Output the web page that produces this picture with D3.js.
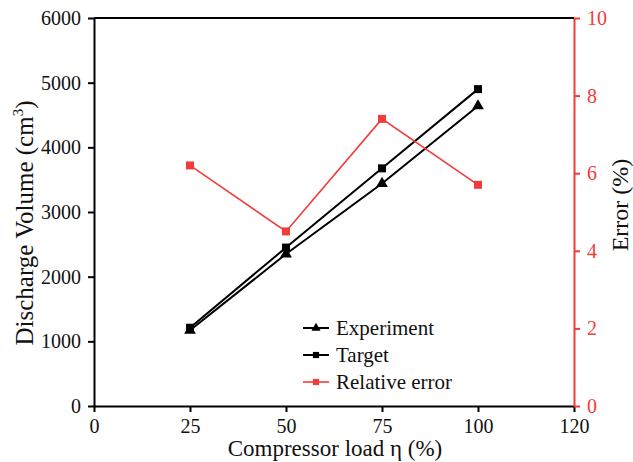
<!DOCTYPE html>
<html>
<head>
<style>
  body { margin: 0; background: #fff; }
  svg text { font-family: "Liberation Serif", "Times New Roman", serif; }
</style>
<script src="https://d3js.org/d3.v7.min.js"></script>
</head>
<body>
<svg id="chart" width="633" height="462"></svg>
<script>
// data
var load = [25, 50, 75, 100];
var experiment = [1170, 2350, 3440, 4640];
var target = [1210, 2450, 3675, 4900];
var relError = [6.2, 4.5, 7.4, 5.7];

var xTicks = [0, 25, 50, 75, 100, 125];
var xTickLabels = ["0", "25", "50", "75", "100", "120"];
var yTicks = [0, 1000, 2000, 3000, 4000, 5000, 6000];
var y2Ticks = [0, 2, 4, 6, 8, 10];

var red = "#f23b3b";
var serif = "Liberation Serif, Times New Roman, serif";
var svg = d3.select("#chart");
var plotL = 94, plotR = 574, plotT = 18, plotB = 406;

var x = d3.scaleLinear().domain([0, 125]).range([plotL, plotR]);
var y = d3.scaleLinear().domain([0, 6000]).range([plotB, plotT]);
var y2 = d3.scaleLinear().domain([0, 10]).range([plotB, plotT]);

// top frame line
svg.append("line").attr("x1", plotL).attr("x2", plotR).attr("y1", plotT).attr("y2", plotT)
  .attr("stroke", "#000").attr("stroke-width", 2);

var xAxis = svg.append("g").attr("transform", "translate(0," + plotB + ")")
  .call(d3.axisBottom(x).tickValues(xTicks).tickSize(6).tickSizeOuter(0)
    .tickFormat(function (d, i) { return xTickLabels[i]; }))
  .attr("font-family", serif);
xAxis.select(".domain").attr("stroke-width", 2);
xAxis.selectAll(".tick line").attr("stroke-width", 2);
xAxis.selectAll("text").attr("font-size", 20).attr("dy", "0.9em").attr("fill", "#111");

var yAxis = svg.append("g").attr("transform", "translate(" + plotL + ",0)")
  .call(d3.axisLeft(y).tickValues(yTicks).tickSize(6).tickSizeOuter(0).tickFormat(d3.format("d")))
  .attr("font-family", serif);
yAxis.select(".domain").attr("stroke-width", 2);
yAxis.selectAll(".tick line").attr("stroke-width", 2);
yAxis.selectAll("text").attr("font-size", 20).attr("x", -13).attr("fill", "#111");

var y2Axis = svg.append("g").attr("transform", "translate(" + plotR + ",0)")
  .call(d3.axisRight(y2).tickValues(y2Ticks).tickSize(6).tickSizeOuter(0))
  .attr("font-family", serif);
y2Axis.select(".domain").attr("stroke", red).attr("stroke-width", 2);
y2Axis.selectAll(".tick line").attr("stroke", red).attr("stroke-width", 2);
y2Axis.selectAll("text").attr("font-size", 20).attr("x", 13).attr("fill", red);

// axis titles
svg.append("text").attr("x", 335).attr("y", 456).attr("text-anchor", "middle")
  .attr("font-size", 23).attr("fill", "#111").text("Compressor load η (%)");

var yt = svg.append("text").attr("transform", "translate(33,223) rotate(-90)")
  .attr("text-anchor", "middle").attr("font-size", 25).attr("fill", "#111");
yt.append("tspan").text("Discharge Volume (cm");
yt.append("tspan").attr("font-size", 15).attr("dy", -10).text("3");
yt.append("tspan").attr("dy", 10).text(")");

svg.append("text").attr("transform", "translate(628,205) rotate(-90)")
  .attr("text-anchor", "middle").attr("font-size", 24).attr("fill", "#111").text("Error (%)");

// series
var series = [
  { name: "Experiment", values: experiment, scale: y, color: "#000", shape: d3.symbolTriangle, size: 60, width: 2 },
  { name: "Target", values: target, scale: y, color: "#000", shape: d3.symbolSquare, size: 64, width: 2 },
  { name: "Relative error", values: relError, scale: y2, color: red, shape: d3.symbolSquare, size: 64, width: 1.6 }
];

series.forEach(function (s) {
  var line = d3.line().x(function (d, i) { return x(load[i]); }).y(function (d) { return s.scale(d); });
  svg.append("path").datum(s.values).attr("d", line)
    .attr("fill", "none").attr("stroke", s.color).attr("stroke-width", s.width);
  svg.selectAll(null).data(s.values).enter().append("path")
    .attr("d", d3.symbol().type(s.shape).size(s.size))
    .attr("transform", function (d, i) { return "translate(" + x(load[i]) + "," + s.scale(d) + ")"; })
    .attr("fill", s.color);
});

// legend
var lg = svg.append("g").attr("transform", "translate(303,328)");
series.forEach(function (s, i) {
  var row = lg.append("g").attr("transform", "translate(0," + (i * 27) + ")");
  row.append("line").attr("x1", 0).attr("x2", 26).attr("stroke", s.color).attr("stroke-width", s.width);
  row.append("path").attr("d", d3.symbol().type(s.shape).size(s.size * 0.6))
    .attr("transform", "translate(13,0)").attr("fill", s.color);
  row.append("text").attr("x", 33).attr("dy", "0.35em").attr("font-size", 21)
    .attr("fill", "#111").text(s.name);
});
</script>
</body>
</html>
